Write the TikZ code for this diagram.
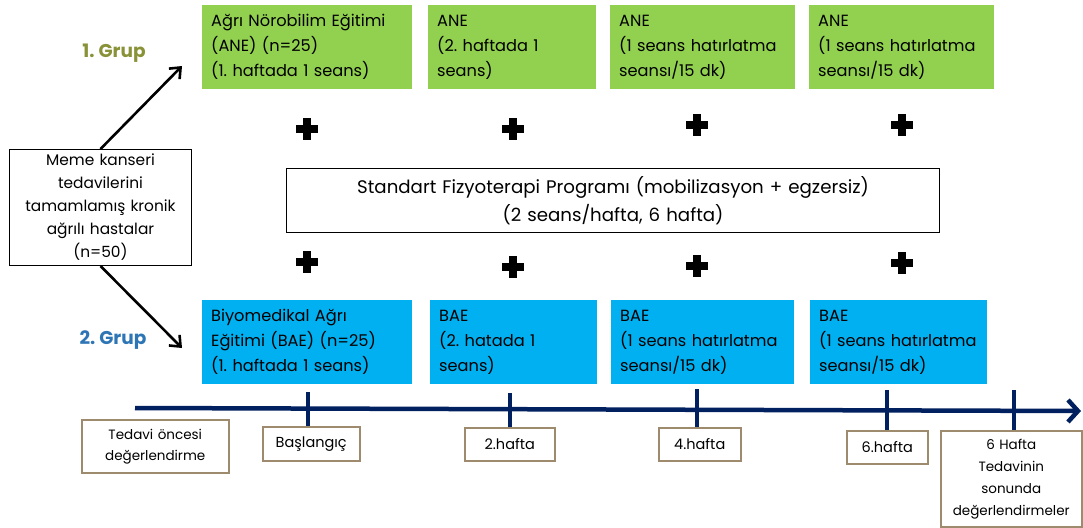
\documentclass[tikz,border=0pt]{standalone}
\usepackage{fontspec}
\setmainfont{Poppins}
\frenchspacing
\usetikzlibrary{arrows.meta}
\definecolor{anegreen}{HTML}{92D050}
\definecolor{baeblue}{HTML}{00B0F0}
\definecolor{navy}{HTML}{002060}
\definecolor{tan}{HTML}{9E8B6E}
\definecolor{olivetext}{HTML}{8A9238}
\definecolor{bluetext}{HTML}{2E75B6}
\tikzset{
  topbox/.style={rectangle, anchor=north west, inner xsep=9pt, inner ysep=0pt, align=left,
    minimum height=84pt, font=\fontsize{16.2}{25}\selectfont},
  anebox/.style={topbox, fill=anegreen},
  baebox/.style={topbox, fill=baeblue},
  framebox/.style={rectangle, draw=black, line width=1pt, anchor=north west, inner sep=0pt, align=center},
  tlbox/.style={rectangle, draw=tan, line width=1.5pt, fill=white, anchor=north west, inner sep=0pt,
    align=center, font=\fontsize{14.5}{22}\selectfont},
  grouplabel/.style={font=\fontsize{18.5}{20}\selectfont\bfseries},
  grouparrow/.style={line width=2.6pt, -{Straight Barb[length=9pt,width=15pt,line width=2.6pt]}},
  timeline/.style={navy, line width=4.5pt, -{Straight Barb[length=10pt,width=22pt,line width=4.5pt]}},
  tick/.style={navy, line width=4.5pt},
}
\begin{document}
\begin{tikzpicture}[x=1pt,y=-1pt]
\useasboundingbox (0,0) rectangle (1083,527);

% top row (ANE)
\node[anebox, text width=192pt] (g1) at (202,5) {Ağrı Nörobilim Eğitimi\\(ANE) (n=25)\\(1. haftada 1 seans)};
\node[anebox, text width=150pt] (g2) at (428,5) {ANE\\(2. haftada 1\\seans)};
\node[anebox, text width=167pt] (g3) at (610,5) {ANE\\(1 seans hatırlatma\\seansı/15 dk)};
\node[anebox, text width=167pt] (g4) at (809,5) {ANE\\(1 seans hatırlatma\\seansı/15 dk)};

% bottom row (BAE)
\node[baebox, text width=192pt] (b1) at (202,300) {Biyomedikal Ağrı\\Eğitimi (BAE) (n=25)\\(1. haftada 1 seans)};
\node[baebox, text width=149pt] (b2) at (430,300) {BAE\\(2. hatada 1\\seans)};
\node[baebox, text width=165pt] (b3) at (611,300) {BAE\\(1 seans hatırlatma\\seansı/15 dk)};
\node[baebox, text width=159pt] (b4) at (810,300) {BAE\\(1 seans hatırlatma\\seansı/15 dk)};

% central programme box
\node[framebox, text width=653pt, minimum height=64pt, font=\fontsize{18.2}{28}\selectfont] (sfp) at (286,168)
  {Standart Fizyoterapi Programı (mobilizasyon + egzersiz)\\(2 seans/hafta, 6 hafta)};

% patient box
\node[framebox, text width=182pt, minimum height=116pt, font=\fontsize{15.4}{23}\selectfont] (pat) at (9,149)
  {Meme kanseri\\tedavilerini\\tamamlamış kronik\\ağrılı hastalar\\(n=50)};

% group labels
\node[grouplabel, text=olivetext] (grp1) at (114,53) {1. Grup};
\node[grouplabel, text=bluetext] (grp2) at (113,340) {2. Grup};

% arrows
\coordinate (a1) at (182,66);
\coordinate (a2) at (182,348);
\draw[grouparrow] (pat.north) -- (a1);
\draw[grouparrow] (pat.south) -- (a2);

% plus signs
\foreach \px/\py in {307/129, 513/129, 697/125, 902/125, 307/262, 513/267, 697/266, 902/263}{
  \fill (\px-11,\py-4) rectangle (\px+11,\py+4);
  \fill (\px-4,\py-11) rectangle (\px+4,\py+11);
}

% timeline boxes
\node[tlbox, text width=147pt, minimum height=53pt, font=\fontsize{13.5}{21}\selectfont] (ted) at (81,419) {Tedavi öncesi\\değerlendirme};
\node[tlbox, text width=97pt, minimum height=34pt] (bas) at (262,426) {Başlangıç};
\node[tlbox, text width=90pt, minimum height=33pt] (h2) at (464,427) {2.hafta};
\node[tlbox, text width=82pt, minimum height=33pt] (h4) at (658,427) {4.hafta};
\node[tlbox, text width=81pt, minimum height=33pt] (h6) at (846,430) {6.hafta};
\node[tlbox, text width=141pt, minimum height=96pt, font=\fontsize{13.5}{22}\selectfont] (fin) at (940,430) {6 Hafta\\Tedavinin\\sonunda\\değerlendirmeler};

% timeline
\coordinate (tls) at (135,408);
\coordinate (tle) at (1081,411);
\draw[timeline] (tls) -- (tle);
\coordinate (t1) at (308,392);
\coordinate (t2) at (510,393);
\coordinate (t3) at (697,389);
\coordinate (t4) at (887,390);
\coordinate (t5) at (1014,390);
\draw[tick] (t1) -- (t1 |- bas.north);
\draw[tick] (t2) -- (t2 |- h2.north);
\draw[tick] (t3) -- (t3 |- h4.north);
\draw[tick] (t4) -- (t4 |- h6.north);
\draw[tick] (t5) -- (t5 |- fin.north);
\end{tikzpicture}
\end{document}
